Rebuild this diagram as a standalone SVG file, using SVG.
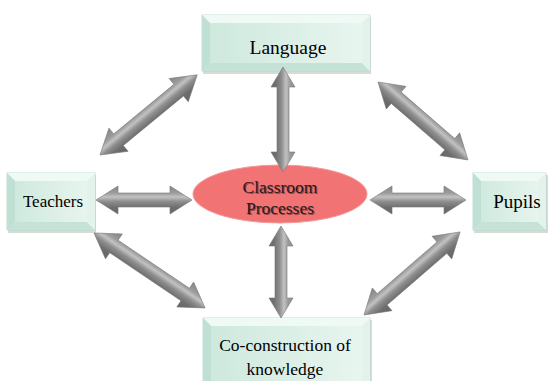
<svg xmlns="http://www.w3.org/2000/svg" width="548" height="381" viewBox="0 0 548 381">
  <defs>
    <linearGradient id="face" x1="0" y1="0" x2="1" y2="0">
      <stop offset="0" stop-color="#cde8dc"/>
      <stop offset="1" stop-color="#e9f6f0"/>
    </linearGradient>
    <linearGradient id="metal" gradientUnits="userSpaceOnUse" x1="0" y1="-15" x2="0" y2="15">
      <stop offset="0" stop-color="#858585"/>
      <stop offset="0.27" stop-color="#9c9c9c"/>
      <stop offset="0.4" stop-color="#c2c2c2"/>
      <stop offset="0.55" stop-color="#8e8e8e"/>
      <stop offset="0.75" stop-color="#6e6e6e"/>
      <stop offset="1" stop-color="#646464"/>
    </linearGradient>
  </defs>
  <style>
    .shadow { fill: #d6dad8; }
    .face { fill: url(#face); stroke: #b3d8c8; stroke-width: 0.8; }
    .bt { fill: #eff9f5; }
    .bl { fill: #bfe0d2; }
    .bb { fill: #c4e3d6; }
    .br { fill: #e3f3ec; }
    .lbl { font-family: "Liberation Serif", "Times New Roman", serif; fill: #000; text-anchor: middle; }
    .ctr { font-family: "Liberation Serif", "Times New Roman", serif; fill: #2a1a1a; text-anchor: middle; font-size: 17.5px; }
    .arrow { fill: url(#metal); stroke: #777777; stroke-width: 0.6; stroke-linejoin: round; }
  </style>
  <rect width="548" height="381" fill="#ffffff"/>

  <!-- Language -->
  <g id="language">
    <rect class="shadow" x="203" y="17" width="168" height="57"/>
    <rect class="face" x="202" y="15" width="168" height="56"/>
    <polygon class="bt" points="202,15 370,15 362,23 210,23"/>
    <polygon class="bl" points="202,15 210,23 210,63 202,71"/>
    <polygon class="bb" points="202,71 210,63 362,63 370,71"/>
    <polygon class="br" points="370,15 370,71 362,63 362,23"/>
    <text class="lbl" x="288" y="54" font-size="19.5">Language</text>
  </g>

  <!-- Teachers -->
  <g id="teachers">
    <rect class="shadow" x="8" y="175" width="88" height="58"/>
    <rect class="face" x="7" y="173" width="88" height="57"/>
    <polygon class="bt" points="7,173 95,173 87,181 15,181"/>
    <polygon class="bl" points="7,173 15,181 15,222 7,230"/>
    <polygon class="bb" points="7,230 15,222 87,222 95,230"/>
    <polygon class="br" points="95,173 95,230 87,222 87,181"/>
    <text class="lbl" x="53" y="207" font-size="17">Teachers</text>
  </g>

  <!-- Pupils -->
  <g id="pupils">
    <rect class="shadow" x="474" y="175" width="74" height="58"/>
    <rect class="face" x="473" y="173" width="73" height="57"/>
    <polygon class="bt" points="473,173 546,173 538,181 481,181"/>
    <polygon class="bl" points="473,173 481,181 481,222 473,230"/>
    <polygon class="bb" points="473,230 481,222 538,222 546,230"/>
    <polygon class="br" points="546,173 546,230 538,222 538,181"/>
    <text class="lbl" x="517" y="208" font-size="19">Pupils</text>
  </g>

  <!-- Co-construction of knowledge -->
  <g id="coconstruction">
    <rect class="shadow" x="204" y="320" width="168" height="64"/>
    <rect class="face" x="203" y="318" width="167" height="66"/>
    <polygon class="bt" points="203,318 370,318 362,326 211,326"/>
    <polygon class="bl" points="203,318 211,326 211,384 203,384"/>
    <polygon class="br" points="370,318 370,384 362,384 362,326"/>
    <text class="lbl" x="285" y="351" font-size="17.5">Co-construction of</text>
    <text class="lbl" x="285" y="375" font-size="17.5">knowledge</text>
  </g>

  <!-- Classroom Processes -->
  <g id="classroom">
    <ellipse cx="280" cy="194" rx="87" ry="29" fill="#f27373" stroke="#f49a9a" stroke-width="1"/>
    <text class="ctr" x="281" y="194" fill="#ffffff" opacity="0.5">Classroom</text>
    <text class="ctr" x="280" y="193">Classroom</text>
    <text class="ctr" x="281" y="215" fill="#ffffff" opacity="0.5">Processes</text>
    <text class="ctr" x="280" y="214">Processes</text>
  </g>

  <!-- double-headed connectors -->
  <g id="connectors">
    <path class="arrow" transform="translate(283,67) rotate(90)" d="M0 0 L20 -12 L20 -6 L85 -6 L85 -12 L105 0 L85 12 L85 6 L20 6 L20 12 Z"/>
    <path class="arrow" transform="translate(281,226) rotate(90)" d="M0 0 L20 -12 L20 -6 L72 -6 L72 -12 L92 0 L72 12 L72 6 L20 6 L20 12 Z"/>
    <path class="arrow" transform="translate(96,200)" d="M0 0 L22 -14 L22 -7 L74 -7 L74 -14 L96 0 L74 14 L74 7 L22 7 L22 14 Z"/>
    <path class="arrow" transform="translate(370,200)" d="M0 0 L22 -14 L22 -7 L74 -7 L74 -14 L96 0 L74 14 L74 7 L22 7 L22 14 Z"/>
    <path class="arrow" transform="translate(100,155) rotate(-39.5)" d="M0 0 L24 -15 L24 -7.5 L102 -7.5 L102 -15 L126 0 L102 15 L102 7.5 L24 7.5 L24 15 Z"/>
    <path class="arrow" transform="translate(378,82) rotate(40.9)" d="M0 0 L24 -15 L24 -7.5 L95 -7.5 L95 -15 L119 0 L95 15 L95 7.5 L24 7.5 L24 15 Z"/>
    <path class="arrow" transform="translate(94,233) rotate(34)" d="M0 0 L24 -15 L24 -7.5 L110 -7.5 L110 -15 L134 0 L110 15 L110 7.5 L24 7.5 L24 15 Z"/>
    <path class="arrow" transform="translate(364,315) rotate(-40.85)" d="M0 0 L24 -15 L24 -7.5 L103 -7.5 L103 -15 L127 0 L103 15 L103 7.5 L24 7.5 L24 15 Z"/>
  </g>
</svg>
